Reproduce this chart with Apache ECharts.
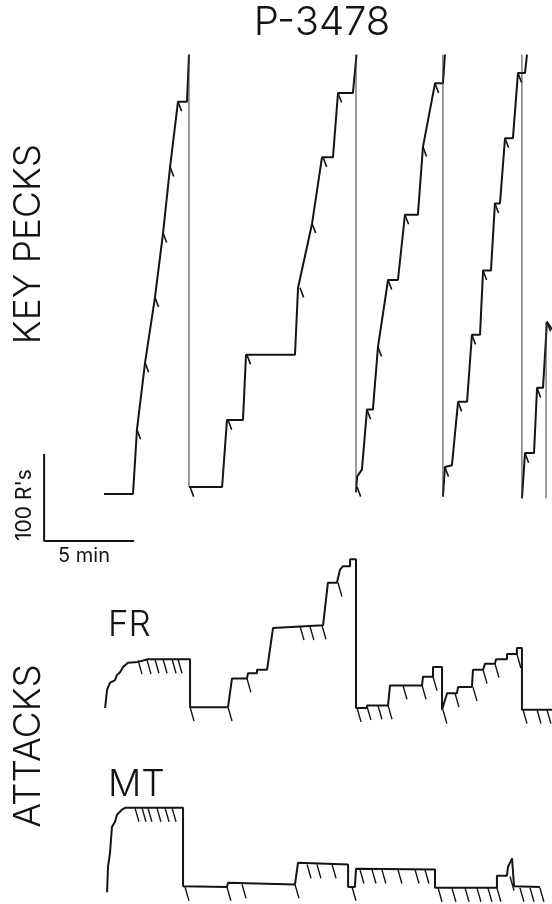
<!DOCTYPE html>
<html>
<head>
<meta charset="utf-8">
<script src="https://cdn.jsdelivr.net/npm/echarts@6/dist/echarts.min.js"></script>
<style>
  html, body { margin: 0; background: #fff; }
  #main { width: 552px; height: 904px; }
</style>
</head>
<body>
<div id="main"></div>
<script>
// cumulative records: x = minutes from start of session, y = cumulative count
// key pecks, one list per pen excursion (pen resets at ~505 responses)
const peckSeg1 = [[0,0],[1.61,0],[1.83,74],[2.28,151],[2.83,226],[3.28,300],[3.67,376],[4.11,451],[4.61,451],[4.72,505]];
const peckSeg2 = [[4.72,8],[6.56,8],[6.83,85],[7.72,85],[7.89,160],[10.61,160],[10.78,237],[11.56,311],[12.11,387],[12.72,387],[13.0,461],[13.83,461],[14.03,505]];
const peckSeg3 = [[14.0,2],[14.06,20],[14.33,28],[14.61,97],[14.94,97],[15.22,169],[15.78,246],[16.33,246],[16.72,321],[17.44,321],[17.72,399],[18.39,472],[18.83,472],[18.94,505]];
const peckSeg4 = [[18.83,-3],[18.94,31],[19.33,33],[19.67,106],[20.17,106],[20.44,183],[20.89,183],[21.06,257],[21.5,257],[21.72,334],[22.0,334],[22.28,409],[22.72,409],[23.0,484],[23.39,484],[23.5,505]];
const peckSeg5 = [[23.22,-5],[23.39,47],[23.89,47],[24.06,122],[24.39,122],[24.61,198],[24.89,189]];
// pen resets: [x, from, to]
const peckResets = [[4.72,505,8],[14.0,505,2],[18.83,505,-3],[23.22,505,-5],[24.56,198,-5]];
// reinforcement pips
const peckPips = [[1.83,74],[2.28,151],[2.83,226],[3.28,300],[3.67,376],[4.11,451],
  [4.78,8],[6.89,85],[7.94,160],[10.89,237],[11.56,311],[12.17,387],[13.0,461],
  [14.06,8],[14.61,97],[15.22,169],[15.78,246],[16.72,321],[17.72,399],[18.39,472],
  [18.94,31],[19.67,106],[20.44,183],[21.06,257],[21.72,334],[22.28,409],[23.0,484],
  [23.39,47],[24.06,122],[24.61,198]];

// attacks, FR schedule
const frTrace = [[0.06,0],[0.17,21],[0.33,29],[0.61,32],[0.72,38],[0.89,41],[1.06,47],[1.33,52],[1.89,53],[2.44,56],
  [4.78,56],[4.78,1],[6.89,1],[7.11,34],[7.94,34],[8.0,40],[8.5,40],[8.5,44],[9.06,44],[9.39,92],[12.17,95],
  [12.44,144],[12.94,144],[13.11,159],[13.28,163],[13.67,163],[13.67,171],[14.0,171],[14.0,0],[14.61,0],
  [14.61,3],[15.78,3],[15.89,26],[17.67,26],[17.72,36],[18.28,36],[18.28,47],[18.78,47],[18.78,-2],[18.83,-2],
  [19.06,17],[19.61,17],[19.67,24],[20.44,24],[20.5,44],[21.06,44],[21.17,51],[21.72,51],[21.78,56],[22.39,56],
  [22.39,62],[22.94,62],[22.94,69],[23.22,69],[23.22,-2],[24.89,-2]];
const frTicks = [[1.89,55],[2.39,55],[2.83,56],[3.28,56],[3.78,56],[4.11,56],[4.78,1],[6.89,1],[7.94,34],
  [10.89,94],[11.44,94],[12.11,95],[13.0,144],[14.06,0],[14.61,2],[15.22,3],[15.78,3],[16.61,26],[17.67,26],
  [18.28,36],[18.83,-2],[19.5,17],[20.5,24],[21.06,44],[21.72,51],[22.94,62],[23.28,-2],[24.06,-2],[24.61,-2]];

// attacks, MT schedule
const mtTrace = [[0.17,-6],[0.22,23],[0.33,39],[0.44,69],[0.61,75],[0.72,83],[1.0,89],[1.17,91],[4.39,91],
  [4.39,1],[6.83,0],[6.89,5],[10.61,3],[10.78,28],[13.56,26],[13.56,0],[13.94,0],[14.0,21],[18.39,20],
  [18.39,-1],[21.83,-1],[21.83,13],[22.39,13],[22.44,23],[22.56,28],[22.67,33],[22.78,31],[22.78,1],[24.22,0]];
const mtTicks = [[1.72,91],[2.11,91],[2.44,91],[2.94,91],[3.39,91],[3.78,91],[4.5,0],[6.83,0],[7.67,3],
  [10.61,3],[11.28,26],[11.83,26],[12.67,26],[13.78,0],[14.22,20],[14.89,20],[15.44,20],[16.33,20],
  [17.28,20],[17.83,20],[18.56,-1],[19.33,-1],[20.06,-1],[20.72,-1],[21.33,-1],[21.83,-1],[22.56,12],
  [23.11,-1],[23.67,-1],[24.22,-1]];

// calibration bar
const scaleResp = 100;
const scaleMin = 5;

const chart = echarts.init(document.getElementById('main'));

const INK = '#141414';
const FONT = 'Inter, "Liberation Sans", sans-serif';

function marks(list, dx, dy) {
  const out = [];
  list.forEach(p => {
    out.push([p[0], p[1]]);
    out.push([p[0] + dx, p[1] - dy]);
    out.push(['-', '-']);
  });
  return out;
}
function resetLines(list) {
  const out = [];
  list.forEach(r => {
    out.push([r[0], r[1]]);
    out.push([r[0], r[2]]);
    out.push(['-', '-']);
  });
  return out;
}
function trace(data, idx, width, color) {
  return {
    type: 'line', data: data, xAxisIndex: idx, yAxisIndex: idx,
    showSymbol: false, connectNulls: false, silent: true, clip: false,
    lineStyle: { color: color || INK, width: width }
  };
}

// scale bar anchor (in key-peck axis units)
const sx = -3.33, sy = -54;
const scaleBar = [[sx, sy + scaleResp], [sx, sy], [sx + scaleMin, sy]];

const grids = [0, 1, 2].map(() => ({ left: 0, right: 0, top: 0, bottom: 0 }));

const option = {
  animation: false,
  backgroundColor: '#fff',
  grid: grids,
  xAxis: [0, 1, 2].map(i => ({ type: 'value', gridIndex: i, min: -5.78, max: 24.89, show: false })),
  yAxis: [
    { type: 'value', gridIndex: 0, min: -471.26, max: 567.82, show: false },
    { type: 'value', gridIndex: 1, min: -225.29, max: 813.79, show: false },
    { type: 'value', gridIndex: 2, min: -19.54, max: 1019.54, show: false }
  ],
  series: [
    trace(peckSeg1, 0, 2),
    trace(peckSeg2, 0, 2),
    trace(peckSeg3, 0, 2),
    trace(peckSeg4, 0, 2),
    trace(peckSeg5, 0, 2),
    trace(resetLines(peckResets), 0, 1, '#3a3a3a'),
    trace(marks(peckPips, 0.2, 11), 0, 1.6),
    trace(scaleBar, 0, 2),
    trace(frTrace, 1, 2),
    trace(marks(frTicks, 0.22, 16), 1, 1.4),
    trace(mtTrace, 2, 2),
    trace(marks(mtTicks, 0.22, 16), 2, 1.4)
  ],
  graphic: [
    { type: 'text', x: 322, y: 23, style: { text: 'P-3478', font: '300 40px ' + FONT, fill: INK, align: 'center', verticalAlign: 'middle' } },
    { type: 'text', x: 29, y: 244, rotation: Math.PI / 2, style: { text: 'KEY PECKS', font: '300 37px ' + FONT, fill: INK, align: 'center', verticalAlign: 'middle' } },
    { type: 'text', x: 29, y: 746, rotation: Math.PI / 2, style: { text: 'ATTACKS', font: '300 37px ' + FONT, fill: INK, align: 'center', verticalAlign: 'middle' } },
    { type: 'text', x: 108, y: 625, style: { text: 'FR', font: '300 35px ' + FONT, fill: INK, align: 'left', verticalAlign: 'middle' } },
    { type: 'text', x: 108, y: 785, style: { text: 'MT', font: '300 37px ' + FONT, fill: INK, align: 'left', verticalAlign: 'middle' } },
    { type: 'text', x: 25, y: 505, rotation: Math.PI / 2, style: { text: "100 R's", font: '21px ' + FONT, fill: INK, align: 'center', verticalAlign: 'middle' } },
    { type: 'text', x: 84, y: 556, style: { text: '5 min', font: '20px ' + FONT, fill: INK, align: 'center', verticalAlign: 'middle' } }
  ]
};

chart.setOption(option);
</script>
</body>
</html>
